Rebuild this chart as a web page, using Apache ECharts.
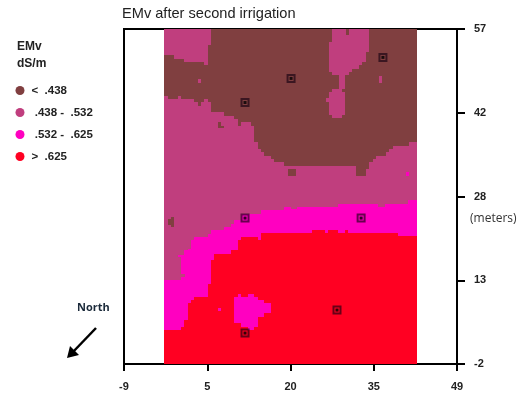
<!DOCTYPE html>
<html><head><meta charset="utf-8">
<script src="https://cdn.jsdelivr.net/npm/echarts@6/dist/echarts.min.js"></script>
<style>html,body{margin:0;padding:0;background:#fff}#c{width:523px;height:396px}</style>
</head><body><div id="c"></div>
<script>
const titleText = 'EMv after second irrigation';
const legendHead = 'EMv\ndS/m';
const classNames = ['<  .438', ' .438 -  .532', ' .532 -  .625', '>  .625'];
const classColors = ['#803f40', '#c03e7e', '#ff00c0', '#ff0022'];
const xTicks = [-9, 5.5, 20, 34.5, 49];
const xTickLabels = ['-9', '5', '20', '35', '49'];
const yTicks = [-2, 12.75, 27.5, 42.25, 57];
const yTickLabels = ['-2', '13', '28', '42', '57'];
const fieldWest = -1.97, fieldEast = 42, fieldSouth = -2, fieldNorth = 57;

// class boundaries read west to east: [x where the step ends, y of the boundary]
const redTop = [[0.93,3.98],[1.51,4.56],[2.09,5.73],[2.67,8.66],[3.25,9.24],[5.57,9.83],[6.15,12.17],[6.74,16.27],[9.64,17.44],[10.8,18.02],[11.38,19.78],[14.29,20.36],[14.87,19.78],[23.69,21.07],[26.02,21.53],[26.6,21.07],[28.34,21.53],[29.5,21.07],[30.08,21.53],[38.79,21.07],[42,20.48]];
const magentaTop = [[0.93,12.75],[1.51,17.15],[2.09,18.02],[2.67,18.32],[3.25,19.78],[5.57,20.36],[6.15,20.95],[8.48,21.53],[9.64,22.12],[10.22,22.7],[11.38,23.29],[14.87,24.46],[18.93,25.05],[20.09,25.63],[21.08,25.34],[28.34,25.63],[35.31,26.22],[36.47,25.63],[40.54,26.22],[42,26.8]];
const mauveTop = [[-1.39,45.23],[0.35,44.64],[0.93,45.23],[3.25,44.64],[3.83,44.06],[4.41,43.47],[4.99,44.06],[5.57,44.64],[6.15,44.06],[8.48,42.3],[10.22,41.72],[10.8,41.13],[11.38,39.96],[13.12,40.55],[13.7,39.96],[14.29,37.04],[14.87,35.87],[15.45,35.28],[16.61,34.7],[17.19,34.11],[18.93,33.52],[31.42,32.94],[33.16,31.18],[33.74,32.35],[34.32,33.52],[34.9,34.11],[36.64,34.7],[37.22,35.28],[37.81,35.87],[40.71,36.45],[42,37.04]];

// enclosed patches: [x0, x1, y0, y1, class]
const mauvePatches = [[-1.97,-0.23,52.37,57,1],[-0.23,1.51,51.79,57,1],[1.51,4.99,51.2,57,1],[4.99,5.57,50.62,57,1],[5.57,6.15,54.13,57,1],
 [26.71,27.29,49.44,54.71,1],[27.29,29.62,48.86,57,1],[29.62,30.2,48.86,55.88,1],[30.2,30.78,49.44,57,1],[30.78,31.94,50.03,57,1],[31.94,32.52,50.62,57,1],[32.52,33.1,51.2,57,1],[33.1,33.68,52.96,57,1],
 [28.46,29.5,46.52,48.86,1],[26.13,26.71,44.18,44.76,1],[26.71,27.29,41.84,45.93,1],[27.29,29.04,41.25,46.52,1],[29.04,29.5,41.84,45.93,1],
 [35.43,36,47.57,48.74,1],[3.83,4.41,47.57,48.16,1],[0.93,1.63,13.34,13.92,1]];
const brownPatches = [[19.51,20.97,31.18,32.35,0],[7.32,7.9,39.5,40.55,0],[7.9,8.48,39.5,39.96,0],[-1.39,-0.23,22.41,23.58,0],[-0.81,-0.23,22.12,23.88,0]];
const magentaPatches = [[40.07,40.65,31.18,31.77,2],[0.35,0.93,16.86,17.15,2],[10.22,10.8,5.15,9.83,2],[10.8,11.38,5.15,10.41,2],[11.38,12.54,4.56,9.83,2],[12.54,13.7,3.98,10.41,2],[13.7,14.29,4.56,9.83,2],[14.29,15.45,6.32,9.24,2],[15.45,16.61,6.9,8.66,2],[7.32,7.9,7.37,7.95,2]];

// monitoring sites [x, y]
const sites = [[12.08,44.05],[20.1,48.3],[36.1,52],[12.08,23.7],[32.3,23.7],[12.08,3.45],[28.1,7.5]];

function band(lower, upper, cls) {
  const cuts = new Set([fieldWest, fieldEast]);
  (lower || []).forEach(p => cuts.add(p[0]));
  (upper || []).forEach(p => cuts.add(p[0]));
  const xs = [...cuts].sort((a, b) => a - b);
  const at = (b, x, dflt) => { if (!b) return dflt; for (const p of b) if (x < p[0]) return p[1]; return b[b.length - 1][1]; };
  const out = [];
  for (let i = 0; i + 1 < xs.length; i++) {
    const m = (xs[i] + xs[i + 1]) / 2;
    const lo = at(lower, m, fieldSouth), hi = at(upper, m, fieldNorth);
    if (hi > lo) out.push([xs[i], xs[i + 1], lo, hi, cls, 1]);
  }
  return out;
}
const patch = a => a.map(p => p.concat(2));
const seriesData = [
  band(mauveTop, null, 0).concat(patch(brownPatches)),
  band(magentaTop, mauveTop, 1).concat(patch(mauvePatches)),
  band(redTop, magentaTop, 2).concat(patch(magentaPatches)),
  band(null, redTop, 3)
];

function renderCell(params, api) {
  const a = api.coord([api.value(0), api.value(3)]);
  const b = api.coord([api.value(1), api.value(2)]);
  const x = Math.round(a[0]), y = Math.round(a[1]);
  return {
    type: 'rect',
    z2: api.value(5) * 10,
    shape: { x, y, width: Math.round(b[0]) - x, height: Math.round(b[1]) - y },
    style: { fill: classColors[api.value(4)] }
  };
}

const tickFont = { fontFamily: 'Liberation Sans', fontWeight: 'bold', fontSize: 11, color: '#222' };
const labelOf = (ticks, labels) => v => { const i = ticks.indexOf(v); return i < 0 ? '' : labels[i]; };
const chart = echarts.init(document.getElementById('c'), null, { renderer: 'canvas' });
chart.setOption({
  animation: false,
  backgroundColor: '#fff',
  grid: { left: 124, right: 66, top: 29, bottom: 32, show: true, borderColor: '#000', borderWidth: 2, backgroundColor: 'transparent' },
  xAxis: {
    type: 'value', min: -9, max: 49, splitLine: { show: false },
    axisLine: { show: true, onZero: false, lineStyle: { color: '#000', width: 2 } },
    axisTick: { show: true, customValues: xTicks, length: 7, lineStyle: { color: '#000', width: 2 } },
    axisLabel: { show: true, customValues: xTicks, formatter: labelOf(xTicks, xTickLabels), margin: 17, ...tickFont }
  },
  yAxis: {
    type: 'value', position: 'right', min: -2, max: 57, splitLine: { show: false },
    axisLine: { show: true, onZero: false, lineStyle: { color: '#000', width: 2 } },
    axisTick: { show: true, customValues: yTicks, length: 8, lineStyle: { color: '#000', width: 2 } },
    axisLabel: { show: true, customValues: yTicks, formatter: labelOf(yTicks, yTickLabels), margin: 17, ...tickFont }
  },
  legend: {
    left: 10.5, top: 79, orient: 'vertical', icon: 'circle', itemWidth: 9, itemHeight: 9, itemGap: 9,
    data: classNames, selectedMode: false,
    textStyle: { fontFamily: 'Liberation Sans', fontWeight: 'bold', fontSize: 11.5, lineHeight: 13, color: '#222', padding: [0, 0, 0, 2] }
  },
  graphic: [
    { type: 'text', left: 122, top: 6, style: { text: titleText, font: '14.6px "Liberation Sans"', fill: '#222' } },
    { type: 'text', left: 17, top: 38, style: { text: legendHead, font: 'bold 12px "Liberation Sans"', fill: '#222', lineHeight: 17 } },
    { type: 'text', left: 470, top: 213, style: { text: '(meters)', font: '12px "Open Sans"', fill: '#333' } },
    { type: 'text', left: 77, top: 302, style: { text: 'North', font: 'bold 11px "Open Sans"', fill: '#1b2a3a' } },
    { type: 'line', shape: { x1: 96, y1: 328, x2: 72, y2: 353 }, style: { stroke: '#000', lineWidth: 2.5 } },
    { type: 'polygon', shape: { points: [[67, 358], [70, 346], [79, 355]] }, style: { fill: '#000' } }
  ],
  series: classNames.map((name, i) => ({
    name, type: 'custom', coordinateSystem: 'cartesian2d', renderItem: renderCell,
    itemStyle: { color: classColors[i] },
    encode: { x: [0, 1], y: [2, 3] }, data: seriesData[i], silent: true
  })).concat([
    { type: 'scatter', symbol: 'rect', symbolSize: 7, data: sites, z: 5, silent: true,
      itemStyle: { color: 'transparent', borderColor: 'rgba(20,0,15,0.8)', borderWidth: 2 } },
    { type: 'scatter', symbol: 'rect', symbolSize: 3, data: sites, z: 5, silent: true,
      itemStyle: { color: '#000' } }
  ])
});
</script></body></html>
